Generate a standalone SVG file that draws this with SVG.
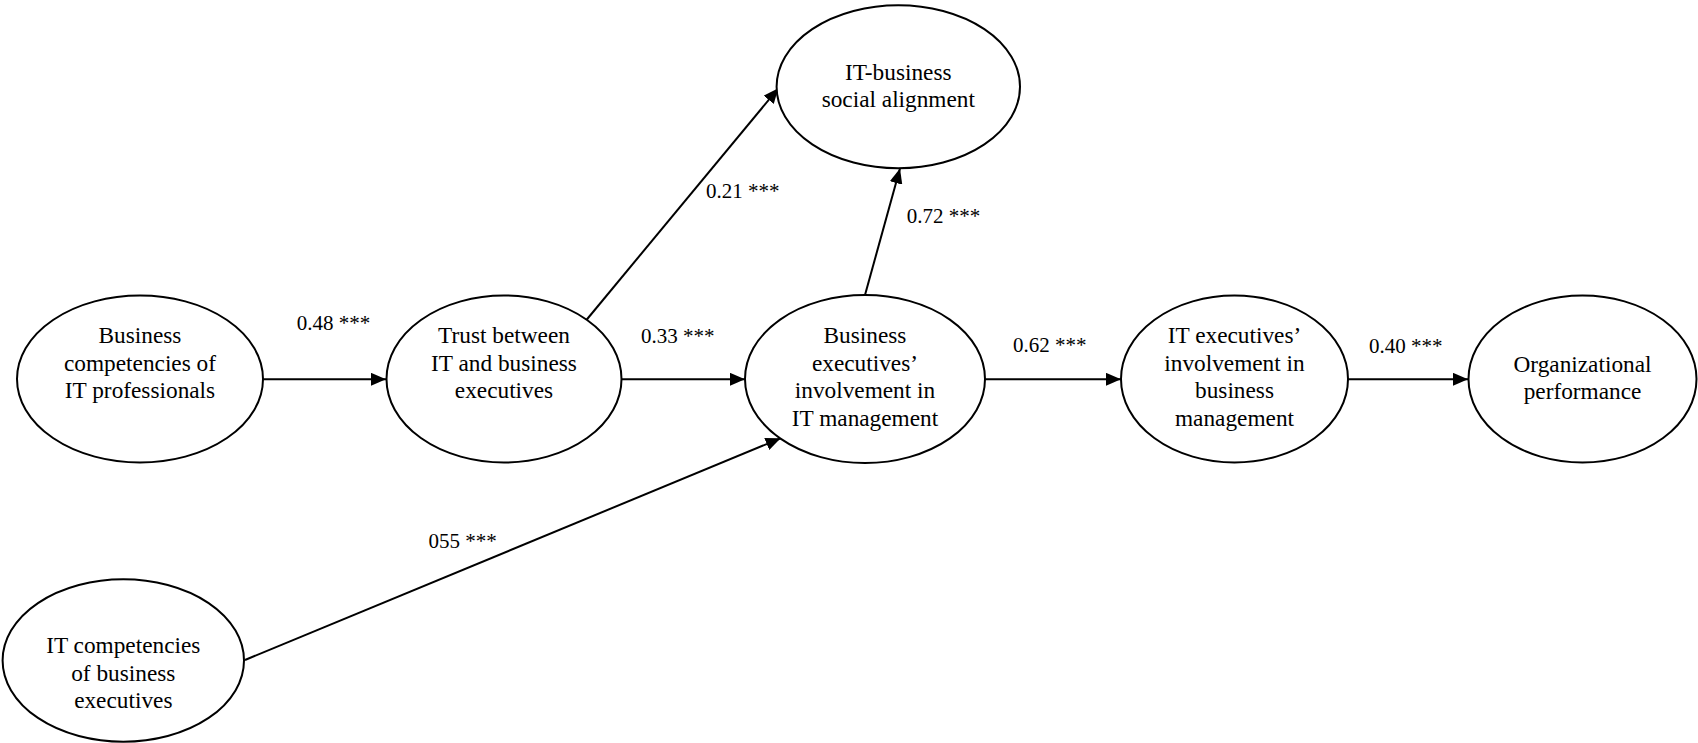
<svg xmlns="http://www.w3.org/2000/svg" width="1698" height="743" viewBox="0 0 1698 743">
<style>
.node ellipse{fill:#fff;stroke:#000;stroke-width:2}
.node text{font-family:'Liberation Serif',serif;font-size:23.3px;fill:#000;text-anchor:middle}
.edge line{stroke:#000;stroke-width:2;marker-end:url(#arr)}
.lbl{font-family:'Liberation Serif',serif;font-size:21px;fill:#000}
</style>
<defs>
<marker id="arr" markerUnits="userSpaceOnUse" markerWidth="16" markerHeight="13" refX="15" refY="6.5" orient="auto">
<path d="M0,0 L15,6.5 L0,13 z" fill="#000"/>
</marker>
</defs>
<rect width="1698" height="743" fill="#fff"/>
<g id="connectors" class="edge">
<line x1="263" y1="379.3" x2="386" y2="379.3"/>
<line x1="621" y1="379.3" x2="745" y2="379.3"/>
<line x1="985" y1="379.3" x2="1121" y2="379.3"/>
<line x1="1348" y1="379.3" x2="1468" y2="379.3"/>
<line x1="586" y1="320.5" x2="778.3" y2="88.3"/>
<line x1="865" y1="295" x2="900" y2="168.5"/>
<line x1="245" y1="660" x2="780.6" y2="438.3"/>
</g>
<g id="labels" font-family="Liberation Serif, serif">
<text class="lbl" x="296.7" y="330">0.48 ***</text>
<text class="lbl" x="641" y="343">0.33 ***</text>
<text class="lbl" x="1013" y="351.7">0.62 ***</text>
<text class="lbl" x="1369" y="353.3">0.40 ***</text>
<text class="lbl" x="706" y="198.3">0.21 ***</text>
<text class="lbl" x="906.7" y="222.7">0.72 ***</text>
<text class="lbl" x="428.6" y="548.3">055 ***</text>
</g>
<g id="n1" class="node">
<ellipse cx="140" cy="379" rx="123" ry="83.5"/>
<text x="140" y="343">Business</text>
<text x="140" y="370.5">competencies of</text>
<text x="140" y="398">IT professionals</text>
</g>
<g id="n2" class="node">
<ellipse cx="504" cy="379" rx="117.5" ry="83.5"/>
<text x="504" y="343">Trust between</text>
<text x="504" y="370.5">IT and business</text>
<text x="504" y="398">executives</text>
</g>
<g id="n3" class="node">
<ellipse cx="865" cy="379" rx="120" ry="84"/>
<text x="865" y="343">Business</text>
<text x="865" y="370.5">executives’</text>
<text x="865" y="398">involvement in</text>
<text x="865" y="425.5">IT management</text>
</g>
<g id="n4" class="node">
<ellipse cx="1234.5" cy="379" rx="113.5" ry="83.5"/>
<text x="1234.5" y="343">IT executives’</text>
<text x="1234.5" y="370.5">involvement in</text>
<text x="1234.5" y="398">business</text>
<text x="1234.5" y="425.5">management</text>
</g>
<g id="n5" class="node">
<ellipse cx="1582.5" cy="379" rx="114" ry="83.5"/>
<text x="1582.5" y="371.5">Organizational</text>
<text x="1582.5" y="399">performance</text>
</g>
<g id="n6" class="node">
<ellipse cx="898.3" cy="86.7" rx="121.7" ry="81.5"/>
<text x="898.3" y="79.5">IT-business</text>
<text x="898.3" y="107">social alignment</text>
</g>
<g id="n7" class="node">
<ellipse cx="123.3" cy="660.5" rx="120.7" ry="81.2"/>
<text x="123.3" y="653.3">IT competencies</text>
<text x="123.3" y="680.8">of business</text>
<text x="123.3" y="708.3">executives</text>
</g>
</svg>
